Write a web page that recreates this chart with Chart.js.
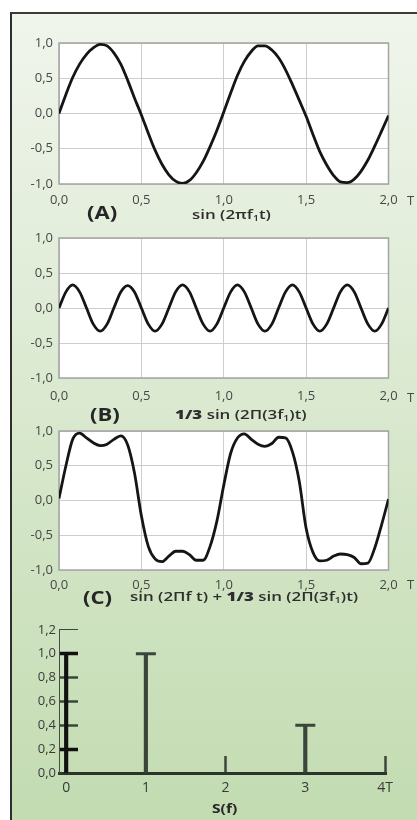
<!DOCTYPE html>
<html>
<head>
<meta charset="utf-8">
<script src="https://cdn.jsdelivr.net/npm/chart.js@4.4.0/dist/chart.umd.min.js"></script>
<style>
html, body { margin: 0; padding: 0; background: #fff; }
#page { position: relative; width: 417px; height: 820px; overflow: hidden; font-family: 'Open Sans', sans-serif; }
#frame {
    position: absolute; left: 10px; top: 12px; width: 420px; height: 820px;
    border-left: 2px solid #2e2e2e; border-top: 2px solid #3a3a3a;
    background: linear-gradient(to bottom, #f0f5ec 0%, #e0ecd7 35%, #d1e4c4 65%, #c2dbb0 100%);
}
canvas { position: absolute; left: 0; }
.lbl { position: absolute; white-space: nowrap; color: #262626; line-height: 1; transform-origin: left center; transform: translateY(-50%) scaleX(1.3); }
.big { font-size: 17px; font-weight: 700; }
.fn { font-size: 13px; font-weight: 600; color: #2e2e2e; }
.fn sub { font-size: 8px; vertical-align: -2px; }
.t { font-size: 13px; color: #474747; transform: translateY(-50%); }
</style>
</head>
<body>
<div id="page">
    <div id="frame"></div>

    <canvas id="chartA" width="417" height="190"></canvas>
    <canvas id="chartB" width="417" height="190"></canvas>
    <canvas id="chartC" width="417" height="190"></canvas>
    <canvas id="chartS" width="417" height="220"></canvas>

    <div class="lbl big" style="left:87px;top:212px">(A)</div>
    <div class="lbl fn" style="left:192px;top:215px">sin (2πf<sub>1</sub>t)</div>
    <div class="lbl big" style="left:90px;top:414px">(B)</div>
    <div class="lbl fn" style="left:175px;top:415px"><b>1/3</b> sin (2Π(3f<sub>1</sub>)t)</div>
    <div class="lbl big" style="left:83px;top:597px">(C)</div>
    <div class="lbl fn" style="left:130px;top:597px">sin (2Πf t) + <b>1/3</b> sin (2Π(3f<sub>1</sub>)t)</div>
    <div class="lbl t" style="left:407px;top:200px">T</div>
    <div class="lbl t" style="left:407px;top:397px">T</div>
    <div class="lbl t" style="left:407px;top:584px">T</div>
    <div class="lbl big" style="left:212px;top:808px;font-size:13px;transform:translateY(-50%) scaleX(1.2)">S(f)</div>
</div>

<script>
// time axis, in periods T
let time = [0, 0.042, 0.083, 0.125, 0.167, 0.208, 0.25, 0.292, 0.333, 0.375, 0.417, 0.458,
    0.5, 0.542, 0.583, 0.625, 0.667, 0.708, 0.75, 0.792, 0.833, 0.875, 0.917, 0.958,
    1.0, 1.042, 1.083, 1.125, 1.167, 1.208, 1.25, 1.292, 1.333, 1.375, 1.417, 1.458,
    1.5, 1.542, 1.583, 1.625, 1.667, 1.708, 1.75, 1.792, 1.833, 1.875, 1.917, 1.958, 2.0]

// (A) sin(2 pi f1 t)
let waveA = [0, 0.27, 0.51, 0.70, 0.84, 0.93, 0.98, 0.96, 0.86, 0.70, 0.47, 0.22,
    -0.02, -0.28, -0.52, -0.72, -0.87, -0.96, -0.99, -0.95, -0.84, -0.68, -0.47, -0.24,
    0.02, 0.29, 0.54, 0.74, 0.88, 0.96, 0.96, 0.90, 0.79, 0.62, 0.41, 0.19,
    -0.04, -0.30, -0.54, -0.73, -0.88, -0.97, -0.98, -0.93, -0.82, -0.66, -0.46, -0.25, -0.03]

// (B) 1/3 sin(2 pi 3f1 t)
let waveB = [0, 0.23, 0.33, 0.23, 0, -0.23, -0.33, -0.23, 0, 0.23, 0.32, 0.23,
    0, -0.23, -0.33, -0.23, 0, 0.23, 0.33, 0.23, 0, -0.23, -0.33, -0.23,
    0, 0.23, 0.33, 0.23, 0, -0.23, -0.33, -0.23, 0, 0.23, 0.33, 0.23,
    0, -0.23, -0.33, -0.23, 0, 0.23, 0.33, 0.23, 0, -0.23, -0.33, -0.23, 0]

// (C) sum of both
let waveC = [0.03, 0.50, 0.88, 0.97, 0.90, 0.83, 0.79, 0.81, 0.88, 0.93, 0.80, 0.40,
    -0.22, -0.66, -0.84, -0.88, -0.80, -0.73, -0.73, -0.78, -0.86, -0.86, -0.66, -0.30,
    0.22, 0.68, 0.90, 0.96, 0.88, 0.81, 0.78, 0.82, 0.91, 0.90, 0.70, 0.28,
    -0.40, -0.75, -0.87, -0.86, -0.80, -0.77, -0.78, -0.82, -0.91, -0.90, -0.68, -0.35, 0.02]

// spectrum S(f)
let freq = [0, 1, 2, 3, 4]
let amp = [1.0, 1.0, 0, 0.4, 0]

let timeTicks = [0, 0.5, 1, 1.5, 2]
let waveTicks = [-1, -0.5, 0, 0.5, 1]
let freqTicks = [0, 1, 2, 3, 4]
let freqLabels = ['0', '1', '2', '3', '4T']
let ampTicks = [0, 0.2, 0.4, 0.6, 0.8, 1.0, 1.2]

Chart.defaults.font.family = "'Open Sans', sans-serif"
Chart.defaults.font.size = 13

let comma = v => v.toFixed(1).replace('.', ',')
let setTicks = list => scale => { scale.ticks = list.map(v => ({ value: v })) }

// white plot area with grey frame
let plotBox = {
    id: 'plotBox',
    beforeDraw(chart) {
        let { ctx, chartArea: a } = chart
        ctx.save()
        ctx.fillStyle = '#ffffff'
        ctx.fillRect(a.left, a.top, a.width, a.height)
        ctx.restore()
    },
    beforeDatasetsDraw(chart) {
        let { ctx, chartArea: a } = chart
        ctx.save()
        ctx.strokeStyle = '#a4a4a4'
        ctx.lineWidth = 1.5
        ctx.strokeRect(a.left, a.top, a.width, a.height)
        ctx.restore()
    }
}

let drawWave = (id, top, plotHeight, values, labelPad) => {
    let canvas = document.getElementById(id)
    canvas.style.top = (top - 15) + 'px'
    new Chart(canvas.getContext('2d'), {
        type: 'line',
        data: {
            datasets: [{
                data: time.map((t, i) => ({ x: t, y: values[i] })),
                borderColor: '#151515',
                borderWidth: 2.8,
                pointRadius: 0,
                cubicInterpolationMode: 'monotone',
                fill: false
            }]
        },
        options: {
            responsive: false,
            animation: false,
            events: [],
            layout: { padding: { top: 15, right: 28.5, left: 0, bottom: 190 - 15 - plotHeight - 26 } },
            plugins: { legend: { display: false }, tooltip: { enabled: false } },
            scales: {
                x: {
                    type: 'linear', min: 0, max: 2,
                    afterBuildTicks: setTicks(timeTicks),
                    afterFit: s => { s.height = 26 },
                    grid: { color: '#cdcdcd', drawTicks: false },
                    border: { display: false },
                    ticks: { padding: labelPad, color: '#474747', callback: comma }
                },
                y: {
                    min: -1, max: 1,
                    afterBuildTicks: setTicks(waveTicks),
                    afterFit: s => { s.width = 59 },
                    grid: { color: '#cdcdcd', drawTicks: false },
                    border: { display: false },
                    ticks: { padding: 6, color: '#474747', callback: comma }
                }
            }
        },
        plugins: [plotBox]
    })
}

drawWave('chartA', 43, 141, waveA, 8)
drawWave('chartB', 238, 140, waveB, 10)
drawWave('chartC', 431, 139, waveC, 7)

// spectrum stems
let stemCanvas = document.getElementById('chartS')
stemCanvas.style.top = '600px'
let stemColor = '#3b463b'
new Chart(stemCanvas.getContext('2d'), {
    type: 'bar',
    data: {
        datasets: [{
            type: 'line',
            data: freq.map((f, i) => ({ x: f, y: amp[i] })).filter(p => p.x > 0 && p.y > 0),
            showLine: false,
            pointStyle: 'line',
            pointRadius: 10,
            pointBorderWidth: 3,
            pointBorderColor: stemColor,
            order: 0
        }, {
            data: freq.map((f, i) => ({ x: f, y: amp[i] })),
            barThickness: 3.5,
            backgroundColor: c => c.raw && c.raw.x === 0 ? '#111111' : stemColor,
            order: 1
        }]
    },
    options: {
        responsive: false,
        animation: false,
        events: [],
        layout: { padding: { top: 15, right: 28.5, left: 0, bottom: 0 } },
        plugins: { legend: { display: false }, tooltip: { enabled: false } },
        scales: {
            x: {
                type: 'linear', min: -0.09, max: 4.02, offset: false,
                afterBuildTicks: setTicks(freqTicks),
                afterFit: s => { s.height = 47 },
                grid: { drawOnChartArea: false, tickLength: -17, tickWidth: 2.5, tickColor: stemColor, offset: false },
                border: { color: '#2c352c', width: 3 },
                ticks: { padding: 24, color: '#3a3a3a', font: { size: 14 }, callback: (v, i) => freqLabels[i] }
            },
            y: {
                min: 0, max: 1.2,
                afterBuildTicks: setTicks(ampTicks),
                afterFit: s => { s.width = 59 },
                grid: {
                    drawOnChartArea: false, tickLength: -19,
                    tickWidth: c => c.tick.value === 1.2 ? 1 : (c.tick.value === 1 || c.tick.value === 0.2 ? 3.5 : 2.5),
                    tickColor: c => (c.tick.value === 1 || c.tick.value === 0.2) ? '#111111' : stemColor
                },
                border: { color: '#4a4a4a', width: 1 },
                ticks: { padding: 22, color: '#3a3a3a', callback: comma }
            }
        }
    }
})
</script>
</body>
</html>
